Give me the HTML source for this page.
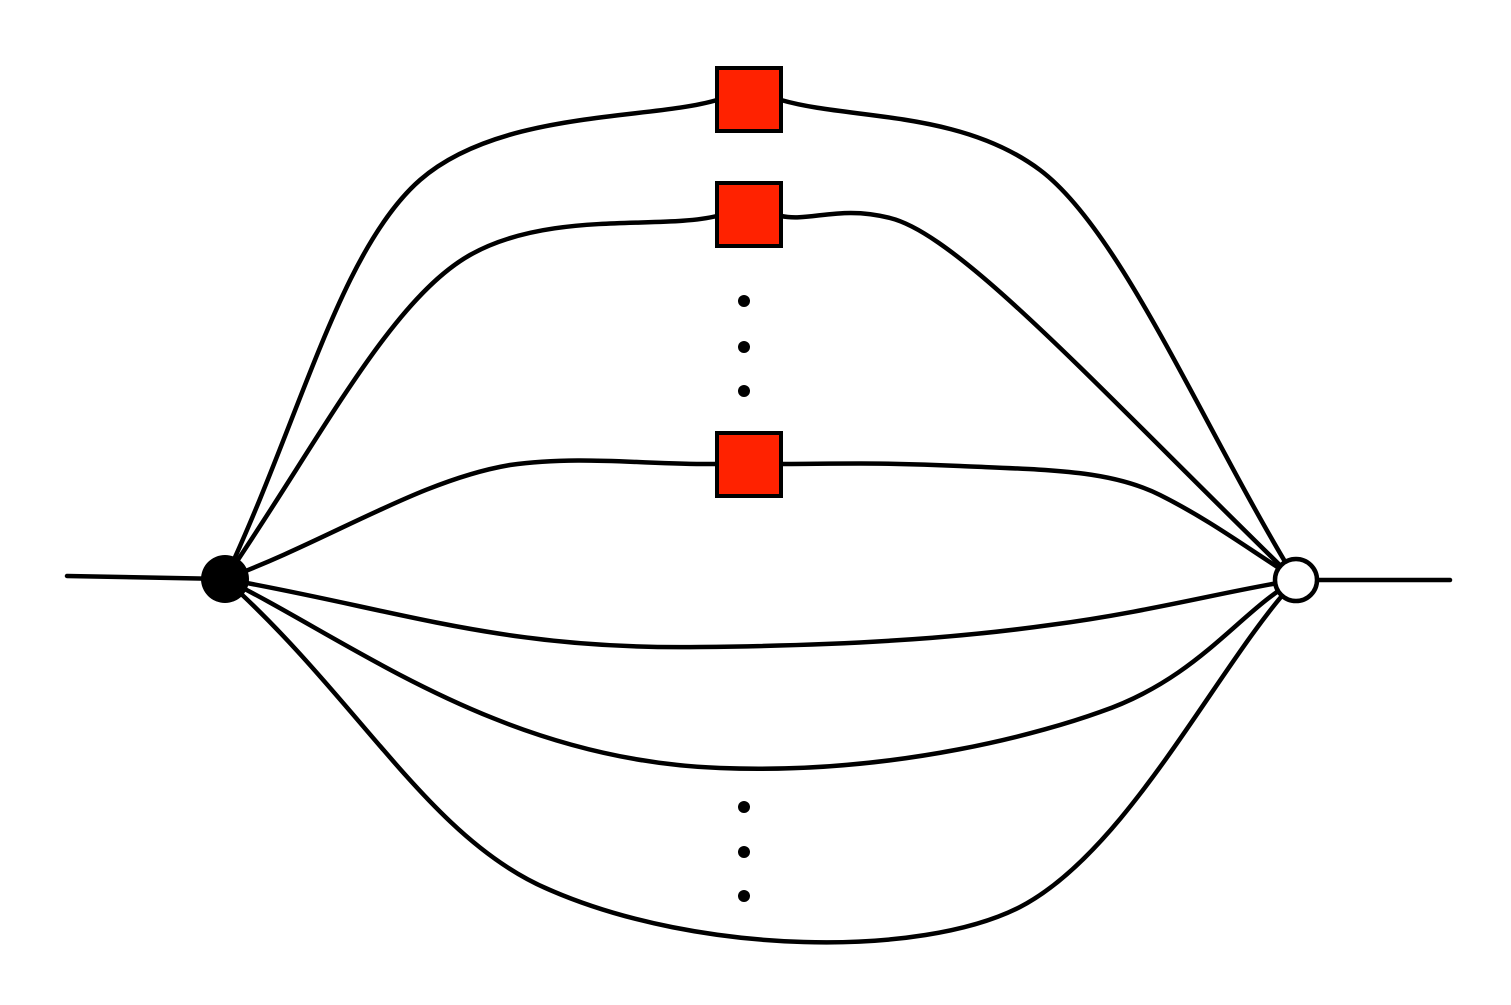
<!DOCTYPE html>
<html><head><meta charset="utf-8"><style>html,body{margin:0;padding:0;background:#fff}svg{display:block}</style></head>
<body>
<svg width="1511" height="1005" viewBox="0 0 1511 1005" xmlns="http://www.w3.org/2000/svg">
<g fill="none" stroke="#000" stroke-width="4.5" stroke-linecap="round">
<line x1="67" y1="576" x2="225" y2="579"/>
<line x1="1296" y1="580" x2="1450" y2="580"/>
<path d="M225,579 C300,420 340,250 420,180 C500,110 650,120 717,100"/>
<path d="M781,100 C850,120 960,110 1040,170 C1120,230 1200,420 1290,570"/>
<path d="M225,579 C320,440 390,300 470,255 C550,210 660,230 717,216"/>
<path d="M781,216 C810,222 840,205 890,218 C960,235 1100,390 1290,575"/>
<path d="M225,579 C330,540 420,480 510,465 C580,455 650,465 717,464"/>
<path d="M781,464 C830,464 880,462 960,466 C1050,470 1110,470 1160,495 C1210,520 1250,550 1290,575"/>
<path d="M225,579 C400,610 500,650 700,647 C900,645 1000,632 1050,625 C1150,612 1230,590 1296,580"/>
<path d="M225,579 C350,640 500,760 720,768 C900,775 1050,730 1100,712 C1200,678 1240,610 1296,580"/>
<path d="M225,579 C360,700 430,840 550,890 C700,955 920,958 1020,907 C1130,850 1220,660 1296,580"/>
</g>
<g fill="#ff2200" stroke="#000" stroke-width="4">
<rect x="717" y="68" width="64" height="63"/>
<rect x="717" y="183" width="64" height="63"/>
<rect x="717" y="433" width="64" height="63"/>
</g>
<circle cx="225" cy="579" r="24" fill="#000"/>
<circle cx="1296" cy="580" r="21" fill="#fff" stroke="#000" stroke-width="4.5"/>
<g fill="#000">
<circle cx="744" cy="301" r="6"/><circle cx="744" cy="347" r="6"/><circle cx="744" cy="391" r="6"/>
<circle cx="744" cy="807" r="6"/><circle cx="744" cy="852" r="6"/><circle cx="744" cy="896" r="6"/>
</g>
</svg>
</body></html>
